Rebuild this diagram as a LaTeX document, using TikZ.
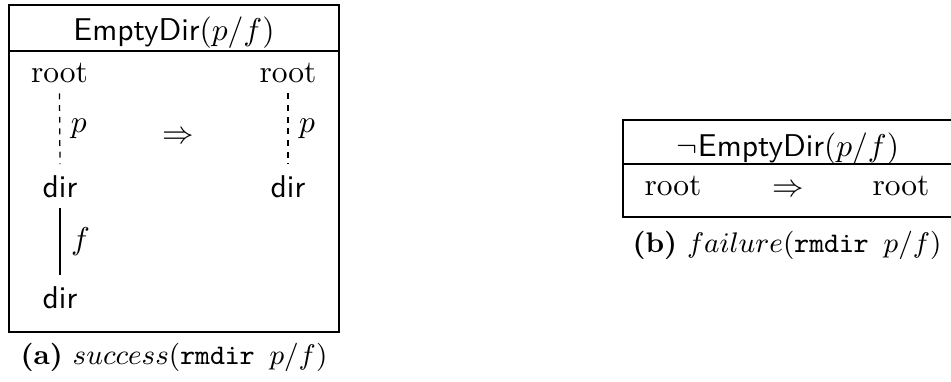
\documentclass[tikz,border=0pt]{standalone}
\usepackage{amssymb}
\begin{document}
\begin{tikzpicture}[x=0.3175pt,y=-0.3175pt,
  lbl/.style={anchor=base},
  caption/.style={anchor=base,font=\small},
  frame/.style={draw,line width=0.4pt},
  dashlink/.style={line width=0.4pt,dash pattern=on 1.85pt off 1.85pt},
  solidlink/.style={line width=0.4pt}]
\clip (0,0) rectangle (951,381);
% left panel
\draw[frame] (9,5) rectangle (339,332);
\draw[frame] (9,51) -- (339,51);
\node[lbl] (hA) at (174,40) {\textsf{EmptyDir}$(p/f)$};
\node[lbl] (r1) at (59.5,82) {root};
\node[lbl] (d1) at (60,197) {\textsf{dir}};
\node[lbl] (d2) at (60,308) {\textsf{dir}};
\node[lbl] (r2) at (288,82) {root};
\node[lbl] (d3) at (288,197) {\textsf{dir}};
\node[lbl] (impA) at (178,143) {$\Rightarrow$};
\draw[dashlink] (r1.south) -- (d1.north) node[midway,right] {$p$};
\draw[dashlink] (r2.south) -- (d3.north) node[midway,right] {$p$};
\draw[solidlink] (d1.south) -- (d2.north) node[midway,right] {$f$};
\node[caption] (capA) at (174,364) {\textbf{(a)} $success($\texttt{rmdir\ }$p/f)$};
% right panel
\draw[frame] (623,120) rectangle (954,217);
\draw[frame] (623,164) -- (954,164);
\node[lbl] (hB) at (788,156) {$\neg$\textsf{EmptyDir}$(p/f)$};
\node[lbl] (r3) at (673,195) {root};
\node[lbl] (impB) at (788,196) {$\Rightarrow$};
\node[lbl] (r4) at (901,195) {root};
\node[caption] (capB) at (787,252) {\textbf{(b)} $failure($\texttt{rmdir\ }$p/f)$};
\end{tikzpicture}
\end{document}
